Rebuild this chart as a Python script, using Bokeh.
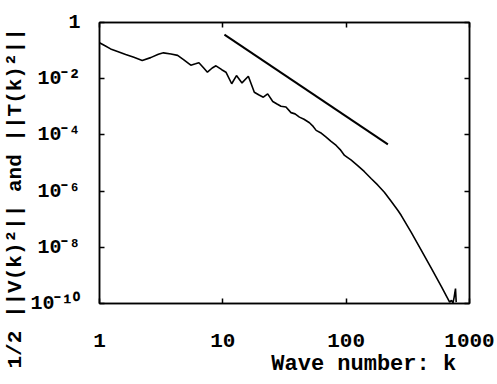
from bokeh.plotting import figure
from bokeh.models import FixedTicker, LogAxis, CustomJSTickFormatter, Title
from bokeh.embed import file_html
from bokeh.resources import INLINE

# Spectrum
wave_k = [1.0, 1.1, 1.23, 1.4, 1.63, 1.9, 2.22, 2.6, 3.0, 3.3, 3.8, 4.3, 4.8, 5.5, 6.0, 6.4,
          7.0, 7.5, 8.2, 8.8, 9.8, 10.6, 11.8, 12.9, 14.3, 16.1, 18.0, 19.5, 21.3, 23.1,
          25.4, 27.5, 29.6, 32.5, 35.7, 38.5, 41.8, 45.5, 50.4, 54, 57.1, 62, 68.8, 75,
          83, 89.4, 97, 110, 124, 140, 160, 180, 204, 230, 263, 280, 337, 407, 491, 592,
          660, 690, 714, 735, 750, 770, 780]
spectrum = [0.191, 0.151, 0.115, 0.0933, 0.0724, 0.0575, 0.0447, 0.0562, 0.0741, 0.0832,
            0.0759, 0.0676, 0.0479, 0.0302, 0.0339, 0.0372, 0.0240, 0.0170, 0.0240, 0.0288,
            0.0209, 0.0170, 6.61e-3, 0.0129, 7.08e-3, 0.0123, 3.31e-3, 2.69e-3, 2.19e-3,
            2.88e-3, 1.55e-3, 1.26e-3, 1.05e-3, 9.8e-4, 6.2e-4, 5.6e-4, 4.3e-4, 3.6e-4,
            2.7e-4, 2.0e-4, 1.45e-4, 1.2e-4, 8.3e-5, 6.0e-5, 4.2e-5, 3.0e-5, 1.86e-5,
            1.26e-5, 8.1e-6, 5.0e-6, 2.75e-6, 1.66e-6, 9.1e-7, 4.5e-7, 2.04e-7, 1.35e-7,
            3.4e-8, 7.8e-9, 1.78e-9, 4.0e-10, 1.62e-10, 1.12e-10, 1.29e-10, 1.05e-10,
            1.62e-10, 3.4e-10, 1.12e-10]

# Reference slope line (k^-3)
ref_k = [10.3, 218]
ref_e = [0.37, 4.6e-5]

x_ticks = [1, 10, 100, 1000]
x_tick_labels = ["1", "10", "100", "1000"]
y_ticks = [1e-10, 1e-8, 1e-6, 1e-4, 1e-2, 1]
y_tick_labels = ["10\u207b\u00b9\u2070", "10\u207b\u2078", "10\u207b\u2076", "10\u207b\u2074", "10\u207b\u00b2", "1"]

NB = "\u00a0"
x_title = NB * 12 + "Wave number: k"
y_title = "1/2  ||V(k)\u00b2|| and ||T(k)\u00b2||"

FONT = "Liberation Mono"
FS = "21px"

p = figure(width=497, height=384, x_axis_type="log", y_axis_type="log",
           x_range=(1, 1000), y_range=(1e-10, 1),
           output_backend="svg", toolbar_location=None,
           min_border_left=99, min_border_right=28, min_border_top=22, min_border_bottom=81)
p.background_fill_color = "white"
p.border_fill_color = "white"
p.outline_line_color = "black"
p.outline_line_width = 1.5
p.xgrid.visible = False
p.ygrid.visible = False

def style_axis(ax, ticks, labels, standoff, size):
    ax.ticker = FixedTicker(ticks=ticks, minor_ticks=[])
    ax.major_label_overrides = {t: l for t, l in zip(ticks, labels)}
    ax.major_tick_in = 5
    ax.major_tick_out = 0
    ax.minor_tick_in = 0
    ax.minor_tick_out = 0
    ax.major_tick_line_color = "black"
    ax.major_tick_line_width = 1.5
    ax.axis_line_color = "black"
    ax.axis_line_width = 1.5
    ax.major_label_text_font = FONT
    ax.major_label_text_font_style = "bold"
    ax.major_label_text_font_size = size
    ax.major_label_text_color = "black"
    ax.major_label_standoff = standoff
    ax.axis_label_text_font = FONT
    ax.axis_label_text_font_style = "bold"
    ax.axis_label_text_color = "black"

style_axis(p.xaxis[0], x_ticks, x_tick_labels, 30, FS)
style_axis(p.yaxis[0], y_ticks, y_tick_labels, 19, "20px")
p.xaxis[0].axis_label = x_title
p.xaxis[0].axis_label_text_font_size = "22px"
p.xaxis[0].axis_label_standoff = 2

ytitle = Title(text=y_title, align="left", vertical_align="middle", offset=-65,
               standoff=0, text_font=FONT, text_font_style="bold",
               text_font_size=FS, text_color="black")
p.add_layout(ytitle, "left")

blank = CustomJSTickFormatter(code="return ''")
for loc, ticks in (("right", y_ticks), ("above", x_ticks)):
    ax = LogAxis()
    ax.ticker = FixedTicker(ticks=ticks, minor_ticks=[])
    ax.formatter = blank
    ax.major_tick_in = 5
    ax.major_tick_out = 0
    ax.minor_tick_in = 0
    ax.minor_tick_out = 0
    ax.major_tick_line_width = 1.5
    ax.axis_line_width = 1.5
    ax.major_label_text_font_size = "1px"
    ax.major_label_standoff = 0
    p.add_layout(ax, loc)

p.line(wave_k, spectrum, line_color="black", line_width=1.6)
p.line(ref_k, ref_e, line_color="black", line_width=2)

open("out.html", "w").write(file_html(p, INLINE))
